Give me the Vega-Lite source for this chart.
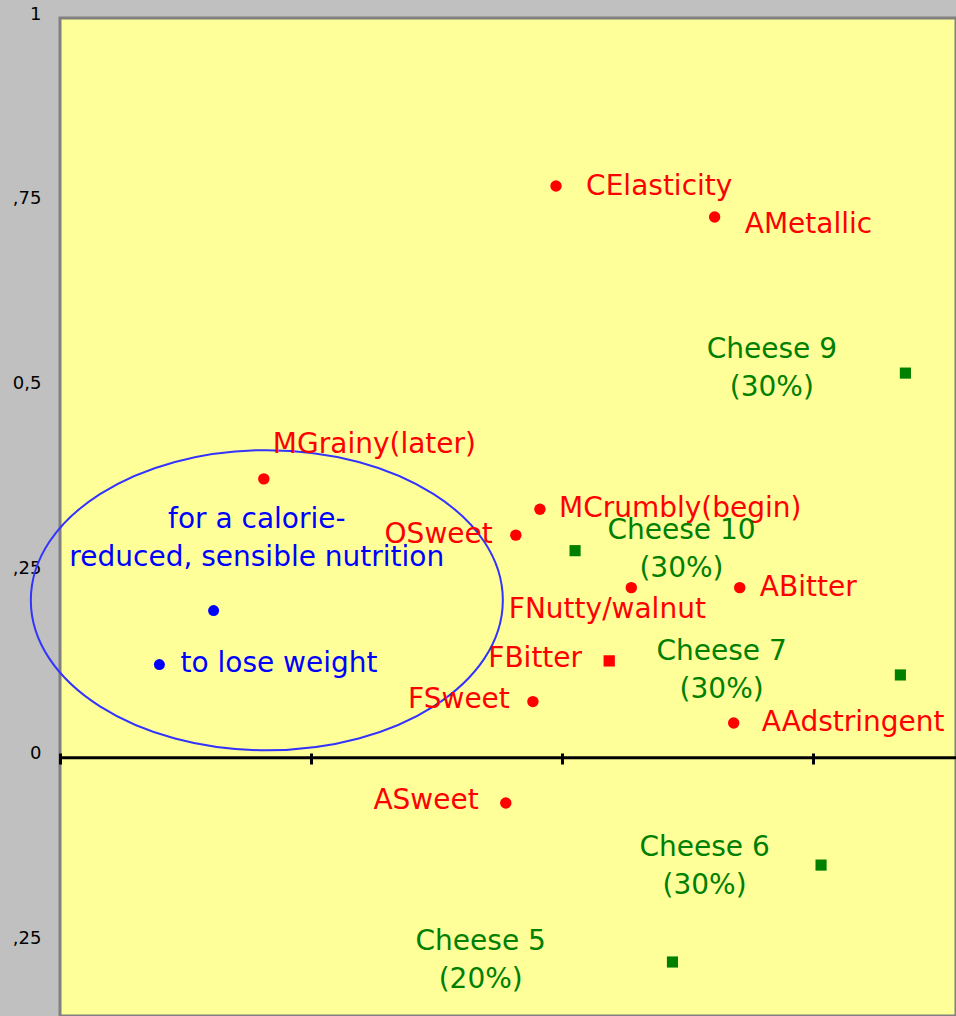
{
  "$schema": "https://vega.github.io/schema/vega-lite/v6.json",
  "width": 896,
  "height": 998,
  "autosize": {"type": "none"},
  "padding": {"left": 60, "top": 18, "right": 0, "bottom": 0},
  "background": "#c0c0c0",
  "config": {
    "view": {"fill": "#ffff99", "stroke": "#808080", "strokeWidth": 3},
    "text": {"font": "DejaVu Sans"}
  },
  "datasets": {
    "points": [
      {"name": "CElasticity", "x": -0.506, "y": 0.773, "series": "attribute", "group": "attribute"},
      {"name": "AMetallic", "x": -0.348, "y": 0.731, "series": "attribute", "group": "attribute"},
      {"name": "MGrainy(later)", "x": -0.797, "y": 0.377, "series": "attribute", "group": "attribute"},
      {"name": "MCrumbly(begin)", "x": -0.522, "y": 0.336, "series": "attribute", "group": "attribute"},
      {"name": "OSweet", "x": -0.546, "y": 0.301, "series": "attribute", "group": "attribute"},
      {"name": "FNutty/walnut", "x": -0.431, "y": 0.230, "series": "attribute", "group": "attribute"},
      {"name": "ABitter", "x": -0.323, "y": 0.230, "series": "attribute", "group": "attribute"},
      {"name": "FBitter", "x": -0.453, "y": 0.131, "series": "attribute (square)", "group": "attribute"},
      {"name": "FSweet", "x": -0.529, "y": 0.076, "series": "attribute", "group": "attribute"},
      {"name": "AAdstringent", "x": -0.329, "y": 0.047, "series": "attribute", "group": "attribute"},
      {"name": "ASweet", "x": -0.556, "y": -0.061, "series": "attribute", "group": "attribute"},
      {"name": "Cheese 9", "x": -0.158, "y": 0.520, "series": "product", "group": "product"},
      {"name": "Cheese 10", "x": -0.487, "y": 0.280, "series": "product", "group": "product"},
      {"name": "Cheese 7", "x": -0.163, "y": 0.112, "series": "product", "group": "product"},
      {"name": "Cheese 6", "x": -0.242, "y": -0.145, "series": "product", "group": "product"},
      {"name": "Cheese 5", "x": -0.390, "y": -0.276, "series": "product", "group": "product"},
      {"name": "for a calorie-reduced, sensible nutrition", "x": -0.847, "y": 0.199, "series": "consumer", "group": "consumer"},
      {"name": "to lose weight", "x": -0.901, "y": 0.126, "series": "consumer", "group": "consumer"}
    ],
    "labels": [
      {"text": "CElasticity", "x": -0.476, "y": 0.772, "anchor": "start", "group": "attribute"},
      {"text": "AMetallic", "x": -0.318, "y": 0.720, "anchor": "start", "group": "attribute"},
      {"text": "MGrainy(later)", "x": -0.788, "y": 0.423, "anchor": "start", "group": "attribute"},
      {"text": "MCrumbly(begin)", "x": -0.503, "y": 0.336, "anchor": "start", "group": "attribute"},
      {"text": "FNutty/walnut", "x": -0.553, "y": 0.200, "anchor": "start", "group": "attribute"},
      {"text": "ABitter", "x": -0.303, "y": 0.230, "anchor": "start", "group": "attribute"},
      {"text": "AAdstringent", "x": -0.301, "y": 0.047, "anchor": "start", "group": "attribute"},
      {"text": "to lose weight", "x": -0.880, "y": 0.127, "anchor": "start", "group": "consumer"},
      {"text": "OSweet", "x": -0.569, "y": 0.301, "anchor": "end", "group": "attribute"},
      {"text": "FBitter", "x": -0.480, "y": 0.134, "anchor": "end", "group": "attribute"},
      {"text": "FSweet", "x": -0.552, "y": 0.078, "anchor": "end", "group": "attribute"},
      {"text": "ASweet", "x": -0.583, "y": -0.059, "anchor": "end", "group": "attribute"},
      {"text": "Cheese 9\n(30%)", "x": -0.291, "y": 0.551, "anchor": "middle", "group": "product"},
      {"text": "Cheese 10\n(30%)", "x": -0.381, "y": 0.307, "anchor": "middle", "group": "product"},
      {"text": "Cheese 7\n(30%)", "x": -0.341, "y": 0.143, "anchor": "middle", "group": "product"},
      {"text": "Cheese 6\n(30%)", "x": -0.358, "y": -0.122, "anchor": "middle", "group": "product"},
      {"text": "Cheese 5\n(20%)", "x": -0.581, "y": -0.249, "anchor": "middle", "group": "product"},
      {"text": "for a calorie-\nreduced, sensible nutrition", "x": -0.804, "y": 0.321, "anchor": "middle", "group": "consumer"}
    ],
    "ellipse": [
      {"name": "target group", "x": -0.794, "y": 0.213}
    ],
    "axisline": [
      {"y": 0}
    ]
  },
  "layer": [
    {
      "data": {"name": "axisline"},
      "mark": {"type": "rule", "color": "#000000", "strokeWidth": 3},
      "encoding": {
        "y": {"field": "y", "type": "quantitative"}
      }
    },
    {
      "data": {"name": "points"},
      "mark": {"type": "point", "filled": true, "opacity": 1},
      "encoding": {
        "x": {
          "field": "x", "type": "quantitative",
          "scale": {"domain": [-1, -0.1076], "nice": false, "zero": false},
          "axis": {
            "orient": "bottom", "offset": -263, "values": [-1, -0.75, -0.5, -0.25],
            "labels": false, "domain": false, "grid": false, "ticks": true,
            "tickSize": 11, "tickWidth": 3, "tickColor": "#000000", "title": null
          }
        },
        "y": {
          "field": "y", "type": "quantitative",
          "scale": {"domain": [-0.349, 1], "nice": false, "zero": false},
          "axis": {
            "values": [-0.25, 0, 0.25, 0.5, 0.75, 1],
            "labelExpr": "datum.value == 1 ? '1' : datum.value == 0.75 ? ',75' : datum.value == 0.5 ? '0,5' : datum.value == 0.25 ? ',25' : datum.value == 0 ? '0' : ',25'",
            "domain": false, "ticks": false, "grid": false,
            "labelPadding": 19, "labelFontSize": 18, "labelFont": "DejaVu Sans",
            "labelColor": "#000000", "labelOffset": -4, "title": null
          }
        },
        "color": {
          "field": "group", "type": "nominal",
          "scale": {"domain": ["attribute", "product", "consumer"], "range": ["#ff0000", "#008000", "#0000ff"]},
          "legend": null
        },
        "shape": {
          "field": "series", "type": "nominal",
          "scale": {"domain": ["attribute", "attribute (square)", "product", "consumer"], "range": ["circle", "square", "square", "circle"]},
          "legend": null
        },
        "size": {
          "field": "series", "type": "ordinal",
          "scale": {"domain": ["attribute", "attribute (square)", "product", "consumer"], "range": [130, 121, 160, 100]},
          "legend": null
        }
      }
    },
    {
      "data": {"name": "ellipse"},
      "mark": {
        "type": "point",
        "shape": "M-1,0A1,0.636,0,1,1,1,0A1,0.636,0,1,1,-1,0Z",
        "filled": false, "color": "#3333ff", "strokeWidth": 2,
        "size": 222784, "opacity": 1
      },
      "encoding": {
        "x": {"field": "x", "type": "quantitative"},
        "y": {"field": "y", "type": "quantitative"}
      }
    },
    {
      "data": {"name": "labels"},
      "transform": [{"filter": "datum.anchor == 'start'"}],
      "mark": {"type": "text", "align": "left", "baseline": "middle", "fontSize": 28, "font": "DejaVu Sans"},
      "encoding": {
        "x": {"field": "x", "type": "quantitative"},
        "y": {"field": "y", "type": "quantitative"},
        "text": {"field": "text"},
        "color": {"field": "group", "type": "nominal", "legend": null}
      }
    },
    {
      "data": {"name": "labels"},
      "transform": [{"filter": "datum.anchor == 'end'"}],
      "mark": {"type": "text", "align": "right", "baseline": "middle", "fontSize": 28, "font": "DejaVu Sans"},
      "encoding": {
        "x": {"field": "x", "type": "quantitative"},
        "y": {"field": "y", "type": "quantitative"},
        "text": {"field": "text"},
        "color": {"field": "group", "type": "nominal", "legend": null}
      }
    },
    {
      "data": {"name": "labels"},
      "transform": [{"filter": "datum.anchor == 'middle'"}],
      "mark": {"type": "text", "align": "center", "baseline": "middle", "fontSize": 28, "font": "DejaVu Sans", "lineBreak": "\n", "lineHeight": 38},
      "encoding": {
        "x": {"field": "x", "type": "quantitative"},
        "y": {"field": "y", "type": "quantitative"},
        "text": {"field": "text"},
        "color": {"field": "group", "type": "nominal", "legend": null}
      }
    }
  ]
}
